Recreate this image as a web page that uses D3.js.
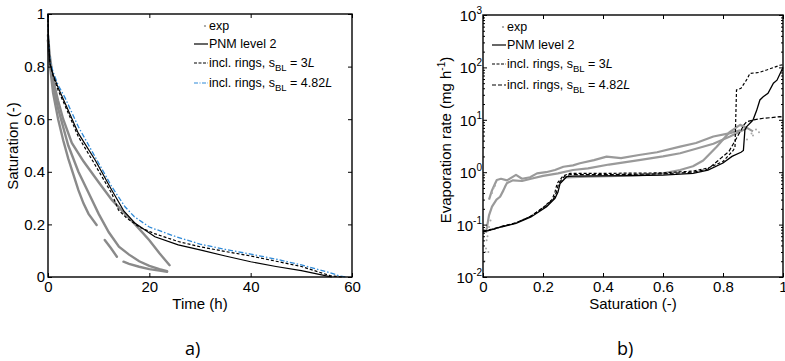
<!DOCTYPE html>
<html><head><meta charset="utf-8">
<script src="https://cdn.jsdelivr.net/npm/d3@7"></script>
<style>body{margin:0;background:#fff}svg{display:block;font-family:"Liberation Sans",Arial,sans-serif}</style>
</head><body><svg id="c" width="785" height="361"></svg>
<script>
// ---------- Panel a) Saturation vs time ----------
const pnmT  = [0,0.1,0.4,1,2,3.4,6,9.3,12.6,15,17.2,21.1,25.7,30,35,40,45,50,54,56];
const pnmS  = [1,0.9,0.81,0.77,0.72,0.66,0.546,0.445,0.33,0.25,0.204,0.153,0.122,0.103,0.08,0.058,0.04,0.024,0.008,0];
const r3T   = [0,0.1,0.4,1,2,3.4,6,9.3,12.6,13.9,15.5,18,21,25.7,30,35,40,45,50,55.7,58];
const r3S   = [1,0.9,0.81,0.765,0.71,0.65,0.533,0.426,0.317,0.255,0.225,0.19,0.165,0.135,0.115,0.097,0.08,0.06,0.04,0.005,0];
const r482T = [0,0.1,0.4,1,2,3.4,6,9.3,12.6,15.2,17,20,25,30,35,40,45,50,55,57.6,59];
const r482S = [1,0.9,0.82,0.78,0.73,0.68,0.571,0.457,0.343,0.267,0.23,0.19,0.155,0.125,0.105,0.087,0.068,0.046,0.02,0.004,0];
const exp1T = [0,0.3,1,2,3,4.7,7,10,12.6,15,17.2,20,22,24];
const exp1S = [0.92,0.85,0.75,0.67,0.6,0.51,0.44,0.36,0.293,0.245,0.2,0.14,0.09,0.045];
const exp2T = [0,0.3,1,2,3,4,6,8,10,12,14,16,18,20,22,23.5];
const exp2S = [0.9,0.83,0.73,0.64,0.57,0.5,0.4,0.32,0.24,0.17,0.115,0.085,0.06,0.042,0.03,0.022];
const exp3T = [0,0.3,1,2,3,4,5,6,7,8,9.6,10.4,11.2,12.4,13.6,14.2,14.9,16,18,20,22,23.5];
const exp3S = [0.9,0.82,0.7,0.6,0.52,0.45,0.39,0.33,0.28,0.24,0.198,null,0.141,0.11,0.077,null,0.058,0.05,0.039,0.03,0.024,0.02];
const xTicksA = [0,20,40,60];
const yTicksA = [0,0.2,0.4,0.6,0.8,1];

// ---------- Panel b) Evaporation rate vs saturation ----------
const bPnmS  = [0,0.03,0.06,0.11,0.16,0.212,0.24,0.25,0.257,0.279,0.3,0.4,0.5,0.6,0.7,0.75,0.8,0.83,0.86,0.868,0.873,0.879,0.9,0.912,0.923,0.934,0.95,0.968,0.98,0.996,1];
const bPnmE  = [0.073,0.08,0.09,0.106,0.14,0.22,0.318,0.42,0.61,0.82,0.84,0.85,0.86,0.88,0.95,1.1,1.5,2.0,2.4,2.6,6.4,7.4,9.9,15,23.9,27.5,32,50,57,89,100];
const bR3S   = [0,0.03,0.06,0.11,0.16,0.2,0.23,0.24,0.247,0.267,0.29,0.4,0.5,0.6,0.7,0.75,0.8,0.834,0.84,0.845,0.86,0.878,0.89,0.92,0.945,0.97,0.99,1];
const bR3E   = [0.073,0.08,0.09,0.108,0.145,0.21,0.3,0.42,0.61,0.85,0.95,0.95,0.96,0.97,1.05,1.2,1.6,2.6,3,37,40,57,77,80,89,100,110,112];
const bR482S = [0,0.03,0.06,0.11,0.16,0.205,0.235,0.245,0.252,0.272,0.29,0.4,0.5,0.6,0.7,0.75,0.78,0.82,0.85,0.87,0.879,0.9,0.934,0.96,0.99,1];
const bR482E = [0.075,0.082,0.092,0.108,0.145,0.22,0.31,0.42,0.61,0.84,0.9,0.9,0.91,0.93,1.0,1.15,1.6,2.5,5,8,9.2,9.9,10.7,11,11.5,11.3];
const bExp1S = [0.02,0.03,0.04,0.046,0.06,0.08,0.11,0.13,0.157,0.18,0.21,0.24,0.268,0.3,0.323,0.37,0.412,0.46,0.52,0.58,0.657,0.71,0.768,0.82,0.857];
const bExp1E = [0.3,0.45,0.6,0.71,0.75,0.7,0.89,0.75,0.8,0.95,1.0,1.1,1.27,1.35,1.48,1.7,1.98,1.85,2.13,2.4,3.07,3.6,4.8,5.5,6.3];
const bExp2S = [0.01,0.02,0.03,0.045,0.057,0.068,0.075,0.08,0.1,0.13,0.16,0.2,0.25,0.3,0.35,0.42,0.52,0.6,0.657,0.71,0.768,0.823,0.879];
const bExp2E = [0.07,0.15,0.22,0.3,0.34,0.45,0.55,0.62,0.7,0.68,0.75,0.85,0.95,1.1,1.18,1.4,1.7,2.0,2.3,2.8,3.5,4.8,6.9];
const bExp3S = [0.27,0.35,0.45,0.52,0.6,0.657,0.7,0.734,0.779,0.823,0.857,0.88,0.9];
const bExp3E = [0.8,0.82,0.85,0.88,0.95,1.1,1.3,1.67,3.07,5.9,8,7,6];
const bScatS = [0.005,0.008,0.01,0.012,0.015,0.018,0.02,0.025,0.03,0.035,0.04,0.88,0.895,0.9,0.91,0.92];
const bScatE = [0.02,0.03,0.035,0.05,0.06,0.03,0.09,0.12,0.4,0.5,0.55,4.2,5.5,5,6.5,5.8];
const xTicksB = [0,0.2,0.4,0.6,0.8,1];
const yTicksB = [0.01,0.1,1,10,100,1000];
const yExpB   = [-2,-1,0,1,2,3];

const svg = d3.select("#c");
const zip = (a,b)=>a.map((v,i)=>[v,b[i]]);

// ===== Panel a =====
const xA = d3.scaleLinear([0,60],[48,352]);
const yA = d3.scaleLinear([0,1],[277,14]);
const gA = svg.append("g");
const lineA = d3.line().defined(d=>d[1]!=null).x(d=>xA(d[0])).y(d=>yA(d[1]));
[[exp1T,exp1S],[exp2T,exp2S],[exp3T,exp3S]].forEach(([t,s])=>{
  gA.append("path").attr("d",lineA(zip(t,s))).attr("fill","none")
    .attr("stroke","#8a8a8a").attr("stroke-width",2.4).attr("stroke-linecap","round");
});
gA.append("path").attr("d",lineA(zip(r482T,r482S))).attr("fill","none")
  .attr("stroke","#2f8ad8").attr("stroke-width",1.3).attr("stroke-dasharray","5,2,1.5,2");
gA.append("path").attr("d",lineA(zip(r3T,r3S))).attr("fill","none")
  .attr("stroke","#000").attr("stroke-width",1.2).attr("stroke-dasharray","3,2");
gA.append("path").attr("d",lineA(zip(pnmT,pnmS))).attr("fill","none")
  .attr("stroke","#000").attr("stroke-width",1.2);

function styleAxis(g){ g.select(".domain").remove(); g.selectAll("text").attr("font-size",15).attr("fill","#000");
  g.selectAll("line").attr("stroke","#000"); }
gA.append("g").attr("transform","translate(0,277)")
  .call(d3.axisBottom(xA).tickValues(xTicksA).tickSize(-4).tickPadding(4).tickFormat(d3.format("d"))).call(styleAxis);
gA.append("g").attr("transform","translate(0,14)")
  .call(d3.axisTop(xA).tickValues(xTicksA).tickSize(-4).tickFormat("")).call(styleAxis);
gA.append("g").attr("transform","translate(48,0)")
  .call(d3.axisLeft(yA).tickValues(yTicksA).tickSize(-4).tickPadding(3).tickFormat(d=>d===0||d===1?String(d):d3.format(".1f")(d))).call(styleAxis);
gA.append("g").attr("transform","translate(352,0)")
  .call(d3.axisRight(yA).tickValues(yTicksA).tickSize(-4).tickFormat("")).call(styleAxis);
gA.append("rect").attr("x",48).attr("y",14).attr("width",304).attr("height",263)
  .attr("fill","none").attr("stroke","#000").attr("stroke-width",1.4);
gA.append("text").attr("x",200).attr("y",309).attr("text-anchor","middle").attr("font-size",15).text("Time (h)");
gA.append("text").attr("transform","translate(18,146) rotate(-90)").attr("text-anchor","middle").attr("font-size",15).text("Saturation (-)");

// ===== Panel b =====
const xB = d3.scaleLinear([0,1],[483,783]);
const yB = d3.scaleLog([0.01,1000],[277,15]);
const gB = svg.append("g");
const lineB = d3.line().x(d=>xB(d[0])).y(d=>yB(d[1]));
[[bExp1S,bExp1E],[bExp2S,bExp2E],[bExp3S,bExp3E]].forEach(([s,e])=>{
  gB.append("path").attr("d",lineB(zip(s,e))).attr("fill","none")
    .attr("stroke","#9a9a9a").attr("stroke-width",2.2).attr("stroke-linejoin","round");
});
gB.selectAll("circle.sc").data(zip(bScatS,bScatE)).enter().append("circle")
  .attr("cx",d=>xB(d[0])).attr("cy",d=>yB(d[1])).attr("r",1).attr("fill","#a8a8a8");
gB.append("path").attr("d",lineB(zip(bR482S,bR482E))).attr("fill","none")
  .attr("stroke","#000").attr("stroke-width",1.2).attr("stroke-dasharray","4,2");
gB.append("path").attr("d",lineB(zip(bR3S,bR3E))).attr("fill","none")
  .attr("stroke","#000").attr("stroke-width",1.2).attr("stroke-dasharray","3,2");
gB.append("path").attr("d",lineB(zip(bPnmS,bPnmE))).attr("fill","none")
  .attr("stroke","#000").attr("stroke-width",1.3);

const minorB = yB.ticks().filter(v=>!yTicksB.includes(v));
gB.append("g").attr("transform","translate(0,277)")
  .call(d3.axisBottom(xB).tickValues(xTicksB).tickSize(-4).tickPadding(4).tickFormat(d=>d===0||d===1?String(d):d3.format(".1f")(d))).call(styleAxis);
gB.append("g").attr("transform","translate(0,15)")
  .call(d3.axisTop(xB).tickValues(xTicksB).tickSize(-4).tickFormat("")).call(styleAxis);
[[483,d3.axisLeft],[783,d3.axisRight]].forEach(([x,ax])=>{
  gB.append("g").attr("transform",`translate(${x},0)`).call(ax(yB).tickValues(yTicksB).tickSize(-4).tickFormat("")).call(styleAxis);
  gB.append("g").attr("transform",`translate(${x},0)`).call(ax(yB).tickValues(minorB).tickSize(-2).tickFormat("")).call(styleAxis);
});
const ylab = gB.selectAll("text.yl").data(yTicksB).enter().append("text")
  .attr("x",482).attr("y",d=>yB(d)+6).attr("text-anchor","end").attr("font-size",15);
ylab.append("tspan").text("10");
ylab.append("tspan").attr("dy",-7).attr("font-size",10).text((d,i)=>String(yExpB[i]));
gB.append("rect").attr("x",483).attr("y",15).attr("width",300).attr("height",262)
  .attr("fill","none").attr("stroke","#000").attr("stroke-width",1.4);
gB.append("text").attr("x",633).attr("y",309).attr("text-anchor","middle").attr("font-size",15).text("Saturation (-)");
const yt = gB.append("text").attr("transform","translate(451,140) rotate(-90)").attr("text-anchor","middle").attr("font-size",15);
yt.append("tspan").text("Evaporation rate (mg h");
yt.append("tspan").attr("dy",-6).attr("font-size",10).text("-1");
yt.append("tspan").attr("dy",6).text(")");

// ===== Legends =====
const legNames = ["exp","PNM level 2","incl. rings, s","incl. rings, s"];
const legTail = ["","", " = 3", " = 4.82"];
function legend(g, x0, ys, styles){
  legNames.forEach((n,i)=>{
    const y = ys[i];
    const st = styles[i];
    if(st.dot){ g.append("circle").attr("cx",x0+11).attr("cy",y-4).attr("r",1.1).attr("fill","#999"); }
    else { g.append("line").attr("x1",x0).attr("x2",x0+14).attr("y1",y-4).attr("y2",y-4)
      .attr("stroke",st.color).attr("stroke-width",1.2).attr("stroke-dasharray",st.dash||null); }
    const t = g.append("text").attr("x",x0+15).attr("y",y).attr("font-size",12.5);
    t.append("tspan").text(n);
    if(i>=2){
      t.append("tspan").attr("dy",4).attr("font-size",9.5).text("BL");
      t.append("tspan").attr("dy",-4).text(legTail[i]);
      t.append("tspan").attr("font-style","italic").text("L");
    }
  });
}
legend(gA, 194, [30,48,67,87], [{dot:true},{color:"#000"},{color:"#000",dash:"3,1.5"},{color:"#2f8ad8",dash:"4,1.5,1,1.5"}]);
legend(gB, 492, [31,49,68,89], [{dot:true},{color:"#000"},{color:"#000",dash:"3,1.5"},{color:"#000",dash:"4,2"}]);

// panel letters
svg.append("text").attr("x",185).attr("y",355).attr("font-family","'Open Sans',sans-serif").attr("font-size",18).text("a)");
svg.append("text").attr("x",617).attr("y",355).attr("font-family","'Open Sans',sans-serif").attr("font-size",18).text("b)");
</script></body></html>
